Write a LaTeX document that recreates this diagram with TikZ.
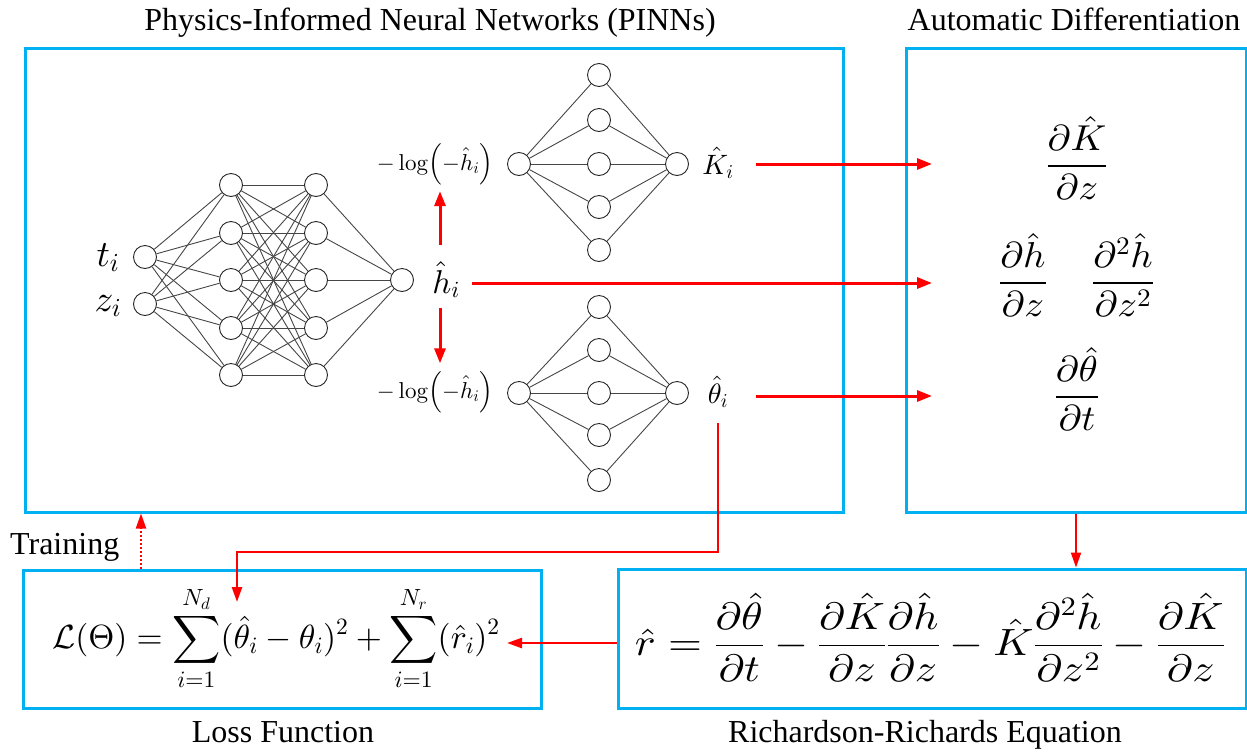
\documentclass[tikz,border=0pt]{standalone}
\usepackage{amsmath}
\usepackage{graphicx}
\usepackage[no-math]{fontspec}
\setmainfont{Liberation Serif}
\DeclareFontFamily{OML}{cmm}{\skewchar\font127 }
\DeclareFontShape{OML}{cmm}{m}{it}{<->cmmi10}{}
\DeclareFontFamily{OMS}{cmsy}{\skewchar\font48 }
\DeclareFontShape{OMS}{cmsy}{m}{n}{<->cmsy10}{}
\DeclareFontFamily{OT1}{cmr}{\hyphenchar\font45 }
\DeclareFontShape{OT1}{cmr}{m}{n}{<->cmr10}{}
\DeclareFontFamily{OMX}{cmex}{}
\DeclareFontShape{OMX}{cmex}{m}{n}{<->cmex10}{}
\usetikzlibrary{arrows.meta}
\definecolor{boxblue}{RGB}{0,176,240}
\definecolor{netgray}{RGB}{70,70,70}
\tikzset{
  panel/.style={draw=boxblue, line width=3pt, inner sep=0pt},
  neuron/.style={circle, draw=black!85, line width=0.9pt, fill=white, minimum size=23pt, inner sep=0pt},
  link/.style={draw=netgray, line width=0.9pt},
  title/.style={font=\fontsize{32}{38}\selectfont, anchor=base, inner sep=0pt},
  mlab/.style={anchor=base, inner sep=0pt},
  redarrow/.style={draw=red, line width=3pt, -{Triangle[length=15pt,width=11pt]}},
  redthin/.style={draw=red, line width=2pt, -{Triangle[length=15pt,width=10pt]}},
  dotarrow/.style={draw=red, line width=2pt, dotted, -{Triangle[length=15pt,width=10pt]}},
}
\begin{document}
\begin{tikzpicture}[x=1pt,y=-1pt]
\useasboundingbox (0,0) rectangle (1247,753);
% panels
\node[panel, minimum width=818pt, minimum height=464pt] (pinn) at (434,280) {};
\node[panel, minimum width=340pt, minimum height=464pt] (ad) at (1076,280) {};
\node[panel, minimum width=518pt, minimum height=138pt] (loss) at (282,639) {};
\node[panel, minimum width=628pt, minimum height=139pt] (rr) at (932,638.5) {};
% titles
\node[title] (tpinn) at (430,30) {Physics-Informed Neural Networks (PINNs)};
\node[title] (tad) at (1074,30) {Automatic Differentiation};
\node[title] (tloss) at (283,742) {Loss Function};
\node[title] (trr) at (925,742) {Richardson-Richards Equation};
\node[title, anchor=base west] (train) at (10,554) {Training};
% main network
\foreach \n/\y in {1/257,2/304} \node[neuron] (in\n) at (145,\y) {};
\foreach \n/\y in {1/185,2/233,3/280,4/328,5/375} {
  \node[neuron] (ha\n) at (231,\y) {};
  \node[neuron] (hb\n) at (316,\y) {};
}
\node[neuron] (out) at (402,280) {};
\foreach \i in {1,2} \foreach \j in {1,...,5} \draw[link] (in\i) -- (ha\j);
\foreach \i in {1,...,5} \foreach \j in {1,...,5} \draw[link] (ha\i) -- (hb\j);
\foreach \i in {1,...,5} \draw[link] (hb\i) -- (out);
% top small network
\node[neuron] (ka) at (519,164) {};
\node[neuron] (kb) at (677,164) {};
\foreach \n/\y in {1/75,2/120,3/164,4/207,5/250} {
  \node[neuron] (kh\n) at (599,\y) {};
  \draw[link] (ka) -- (kh\n);
  \draw[link] (kh\n) -- (kb);
}
% bottom small network
\node[neuron] (ta) at (519,393) {};
\node[neuron] (tb) at (677,393) {};
\foreach \n/\y in {1/307,2/350,3/393,4/435,5/480} {
  \node[neuron] (th\n) at (599,\y) {};
  \draw[link] (ta) -- (th\n);
  \draw[link] (th\n) -- (tb);
}
% labels
\node[mlab, font=\fontsize{37}{42}\selectfont] (ti) at (108,266) {$t_i$};
\node[mlab, font=\fontsize{37}{42}\selectfont] (zi) at (108,311) {$z_i$};
\node[mlab, font=\fontsize{33}{38}\selectfont] (hh) at (446,293) {$\hat{h}_i$};
\node[mlab, font=\fontsize{23}{28}\selectfont] (logK) at (435,170) {$-\log\Bigl(-\hat{h}_i\Bigr)$};
\node[mlab, font=\fontsize{23}{28}\selectfont] (logT) at (435,398) {$-\log\Bigl(-\hat{h}_i\Bigr)$};
\node[mlab, font=\fontsize{28}{32}\selectfont] (Khat) at (718,174) {$\hat{K}_i$};
\node[mlab, font=\fontsize{28}{32}\selectfont] (That) at (718,403) {$\hat{\theta}_i$};
% automatic differentiation terms
\node[mlab, font=\fontsize{36}{40}\selectfont] (dK) at (1077,175) {\scalebox{1.08}[1]{$\dfrac{\partial\hat{K}}{\partial z}$}};
\node[mlab, font=\fontsize{36}{40}\selectfont] (dh) at (1023,292) {\scalebox{1.08}[1]{$\dfrac{\partial\hat{h}}{\partial z}$}};
\node[mlab, font=\fontsize{36}{40}\selectfont] (ddh) at (1123,292) {\scalebox{1.08}[1]{$\dfrac{\partial^2\hat{h}}{\partial z^2}$}};
\node[mlab, font=\fontsize{36}{40}\selectfont] (dt) at (1077,406) {\scalebox{1.08}[1]{$\dfrac{\partial\hat{\theta}}{\partial t}$}};
% equations
\node[mlab, font=\fontsize{33.5}{40}\selectfont] (lossEq) at (276,648)
  {$\displaystyle \mathcal{L}(\Theta)=\sum_{i=1}^{N_d}(\hat{\theta}_i-\theta_i)^2+\sum_{i=1}^{N_r}(\hat{r}_i)^2$};
\node[mlab, font=\fontsize{38}{44}\selectfont] (rrEq) at (930,655)
  {\scalebox{1.15}[1]{$\displaystyle \hat{r}=\frac{\partial\hat{\theta}}{\partial t}-\frac{\partial\hat{K}}{\partial z}\frac{\partial\hat{h}}{\partial z}-\hat{K}\frac{\partial^2\hat{h}}{\partial z^2}-\frac{\partial\hat{K}}{\partial z}$}};
% connectors
\coordinate (kin) at (932,164);
\coordinate (hin) at (932,283);
\coordinate (tin) at (932,396);
\coordinate (c2) at (237,552);
\coordinate (lossin) at (237,602);
\coordinate (rin) at (507,643);
\coordinate (trx) at (141,0);
\coordinate (ax) at (440,0);
\draw[redarrow, shorten <=22pt] (Khat.east |- kin) -- (kin);
\draw[redarrow, shorten <=12pt] (hh.east |- hin) -- (hin);
\draw[redarrow, shorten <=28pt] (That.east |- tin) -- (tin);
\draw[redarrow, shorten <=16pt, shorten >=6pt] (hh.north -| ax) -- (logK.south -| ax);
\draw[redarrow, shorten <=10pt, shorten >=8pt] (hh.south -| ax) -- (logT.north -| ax);
\draw[draw=red, line width=2.5pt, -{Triangle[length=15pt,width=10pt]}, shorten <=16pt]
  (That.south) -- (That.south |- c2) -- (c2) -- (lossin);
\draw[redthin] (ad.south) -- (ad.south |- rr.north);
\draw[redthin, line width=2.5pt] (rr.west |- rin) -- (rin);
\draw[dotarrow] (loss.north -| trx) -- (pinn.south -| trx);
\end{tikzpicture}
\end{document}
